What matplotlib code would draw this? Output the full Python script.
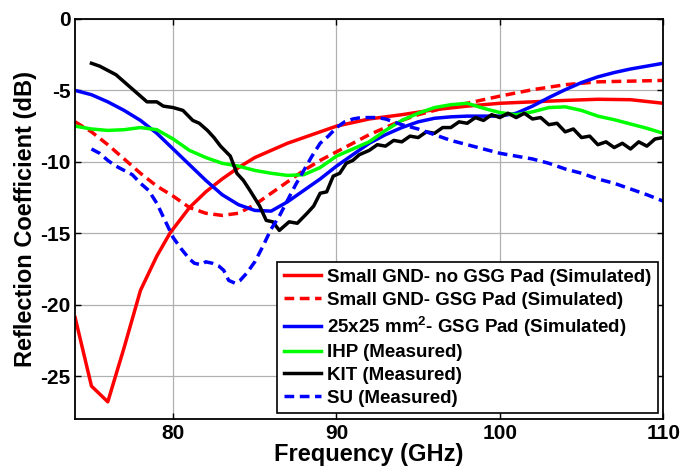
import matplotlib
matplotlib.use("Agg")
import matplotlib.pyplot as plt

plt.rcParams['font.family'] = ['Liberation Sans', 'DejaVu Sans']
plt.rcParams['font.weight'] = 'bold'
plt.rcParams['axes.unicode_minus'] = False
plt.rcParams['mathtext.fontset'] = 'custom'
plt.rcParams['mathtext.rm'] = 'Liberation Sans:bold'
plt.rcParams['mathtext.bf'] = 'Liberation Sans:bold'
plt.rcParams['mathtext.it'] = 'Liberation Sans:bold'

# Small GND - no GSG pad (simulated)
f_red = [74, 75, 76, 77, 78, 79, 79.8, 81, 82, 83, 84, 85, 86, 87, 88, 89, 90,
         92, 94, 96, 98, 100, 102, 104, 106, 108, 110]
s_red = [-20.9, -25.7, -26.8, -23.0, -19.0, -16.6, -15.0, -13.2, -12.1, -11.2, -10.4,
         -9.7, -9.2, -8.7, -8.3, -7.9, -7.5, -7.0, -6.7, -6.35, -6.1, -5.9, -5.8,
         -5.7, -5.62, -5.65, -5.9]

# Small GND - GSG pad (simulated)
f_redd = [74, 75, 76, 77, 78, 79, 80, 81, 82, 83, 84, 85, 86, 87, 88, 89, 90, 91,
          92, 93, 94, 95, 96, 97, 98, 100, 102, 104, 106, 108, 110]
s_redd = [-7.2, -7.9, -8.8, -9.8, -10.8, -11.7, -12.4, -13.2, -13.6, -13.75, -13.6,
          -13.0, -12.2, -11.4, -10.6, -9.9, -9.3, -8.7, -8.1, -7.6, -7.1, -6.7, -6.4,
          -6.1, -5.9, -5.4, -4.95, -4.6, -4.4, -4.35, -4.3]

# 25x25 mm^2 - GSG pad (simulated)
f_blue = [74, 75, 76, 77, 78, 79, 80, 81, 82, 83, 84, 85, 86, 87, 88, 89, 90, 91,
          92, 93, 94, 95, 96, 97, 98, 99, 100, 101, 102, 103, 104, 105, 106, 107,
          108, 109, 110]
s_blue = [-5.0, -5.3, -5.8, -6.4, -7.1, -8.0, -9.1, -10.2, -11.3, -12.3, -13.0,
          -13.4, -13.45, -12.8, -12.0, -11.2, -10.3, -9.5, -8.7, -8.1, -7.6, -7.2,
          -6.95, -6.85, -6.8, -6.8, -6.8, -6.6, -6.1, -5.5, -4.95, -4.45, -4.05,
          -3.75, -3.5, -3.3, -3.1]

# IHP (measured)
f_ihp = [74, 75, 76, 77, 78, 79, 80, 81, 82, 83, 84, 85, 86, 87, 88, 89, 90, 91,
         92, 93, 94, 95, 96, 97, 98, 99, 100, 101, 102, 103, 104, 105, 106, 107,
         108, 109, 110]
s_ihp = [-7.5, -7.7, -7.8, -7.75, -7.6, -7.75, -8.4, -9.2, -9.7, -10.1, -10.3, -10.6,
         -10.8, -10.95, -10.9, -10.4, -9.6, -9.1, -8.6, -7.8, -7.1, -6.6, -6.2, -6.0,
         -5.9, -6.25, -6.55, -6.7, -6.5, -6.2, -6.15, -6.4, -6.8, -7.05, -7.35,
         -7.65, -8.0]

# KIT (measured)
f_kit = [75.0, 75.5, 76.0, 76.5, 77.0, 77.5, 78.0, 78.4, 79.0, 79.4, 80.0, 80.6,
         81.2, 81.6, 82.1, 82.5, 82.9, 83.5, 83.9, 84.3, 84.7, 85.3, 85.7, 86.1,
         86.5, 87.1, 87.6, 88.2, 88.6, 89.0, 89.4, 89.8, 90.2, 90.6, 91.0, 91.4,
         92.0, 92.5, 93.0, 93.5, 94.0, 94.5, 95.0, 95.5, 96.0, 96.5, 97.0, 97.5,
         98.0, 98.5, 99.0, 99.5, 100.0, 100.5, 101.0, 101.5, 102.0, 102.5, 103.0,
         103.5, 104.0, 104.5, 105.0, 105.5, 106.0, 106.5, 107.0, 107.5, 108.0,
         108.5, 109.0, 109.5, 110.0]
s_kit = [-3.1, -3.3, -3.6, -3.9, -4.4, -4.9, -5.4, -5.8, -5.8, -6.1, -6.2, -6.4,
         -7.1, -7.3, -7.8, -8.3, -8.9, -9.6, -10.8, -11.3, -12.0, -13.1, -14.1,
         -14.2, -14.8, -14.2, -14.3, -13.6, -13.1, -12.2, -12.1, -11.0, -10.8,
         -10.1, -9.9, -9.5, -9.2, -8.8, -8.9, -8.5, -8.6, -8.2, -8.3, -7.9, -8.0,
         -7.6, -7.6, -7.2, -7.3, -6.9, -7.1, -6.7, -6.9, -6.6, -6.9, -6.6, -7.0,
         -6.9, -7.4, -7.3, -7.9, -7.7, -8.3, -8.2, -8.8, -8.6, -9.0, -8.7, -9.1,
         -8.6, -8.9, -8.4, -8.3]

# SU (measured)
f_su = [75.0, 75.5, 76.0, 76.5, 77.0, 77.5, 78.0, 78.5, 79.0, 79.5, 80.0, 80.5,
        81.0, 81.3, 81.7, 82.0, 82.4, 82.8, 83.1, 83.4, 83.8, 84.1, 84.5, 85.0,
        85.5, 86.0, 86.5, 87.0, 87.5, 88.0, 88.5, 89.0, 89.5, 90.0, 90.5, 91.0,
        91.5, 92.0, 92.5, 93.0, 93.5, 94.0, 95, 96, 97, 98, 99, 100, 101, 102,
        103, 104, 105, 106, 107, 108, 109, 110]
s_su = [-9.1, -9.4, -9.9, -10.3, -10.6, -10.9, -11.5, -12.0, -12.9, -14.1, -15.3,
        -16.1, -16.8, -17.1, -17.2, -17.0, -17.1, -17.3, -17.6, -18.3, -18.5,
        -18.3, -17.8, -17.0, -15.9, -14.7, -13.8, -12.7, -11.6, -10.6, -9.6, -8.7,
        -8.2, -7.6, -7.2, -7.0, -6.9, -6.9, -6.9, -7.0, -7.2, -7.4, -7.7, -8.1,
        -8.5, -8.8, -9.1, -9.4, -9.6, -9.8, -10.1, -10.5, -10.8, -11.2, -11.5,
        -11.9, -12.3, -12.75]

labels = ['Small GND- no GSG Pad (Simulated)',
          'Small GND- GSG Pad (Simulated)',
          r'25x25 mm$^{2}$- GSG Pad (Simulated)',
          'IHP (Measured)',
          'KIT (Measured)',
          'SU (Measured)']

fig = plt.figure(figsize=(6.83, 4.75), dpi=100)
ax = fig.add_axes([0.110, 0.118, 0.861, 0.842])

lw = 2.5
dash = (2.8, 1.6)
ax.plot(f_red, s_red, color='#ff0000', lw=lw, label=labels[0])
ax.plot(f_redd, s_redd, color='#ff0000', lw=lw, linestyle=(0, dash), label=labels[1])
ax.plot(f_blue, s_blue, color='#0000ff', lw=lw, label=labels[2])
ax.plot(f_ihp, s_ihp, color='#00ff00', lw=lw, label=labels[3])
ax.plot(f_kit, s_kit, color='black', lw=lw, label=labels[4])
ax.plot(f_su, s_su, color='#0000ff', lw=lw, linestyle=(0, dash), label=labels[5])

ax.set_xlim(74, 110)
ax.set_ylim(-28, 0)
ax.set_xticks([80, 90, 100, 110])
ax.set_yticks([0, -5, -10, -15, -20, -25])
ax.grid(True, color='#b0b0b0', lw=0.9)
ax.tick_params(direction='in', top=True, right=True, labelsize=15, length=4, width=1)
for lab in ax.get_xticklabels() + ax.get_yticklabels():
    lab.set_fontweight('bold')
for sp in ax.spines.values():
    sp.set_linewidth(1.3)

ax.set_xlabel('Frequency (GHz)', fontsize=17, fontweight='bold', labelpad=0)
ax.set_ylabel('Reflection Coefficient (dB)', fontsize=17, fontweight='bold', labelpad=2)

leg = ax.legend(loc='lower right', fontsize=13.5, frameon=True, fancybox=False,
                borderaxespad=0.3, handlelength=2.0, labelspacing=0.3,
                handletextpad=0.3, borderpad=0.35)
leg.get_frame().set_edgecolor('black')
leg.get_frame().set_linewidth(1.2)
leg.get_frame().set_alpha(1)
for t in leg.get_texts():
    t.set_fontweight('bold')

fig.savefig('out.png', dpi=100)
